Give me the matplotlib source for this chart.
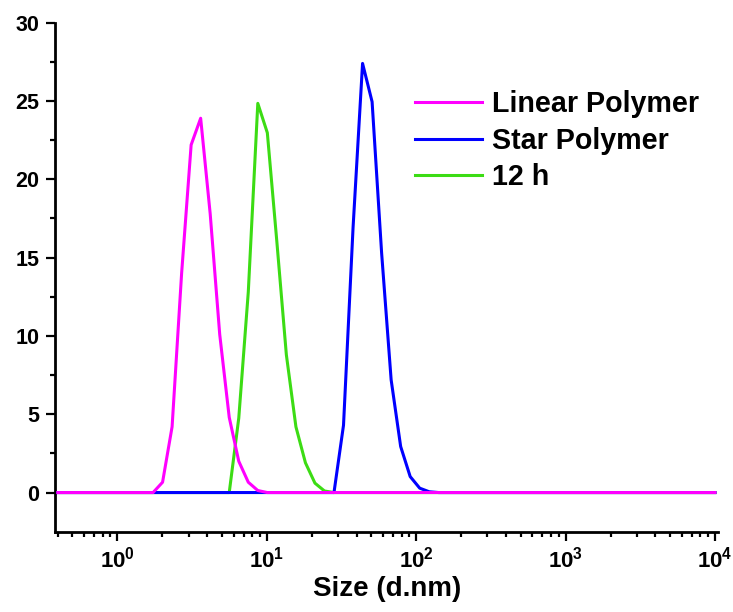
import matplotlib
matplotlib.use("Agg")
import matplotlib.pyplot as plt
from matplotlib.ticker import FixedLocator, FixedFormatter, NullFormatter
import numpy as np

plt.rcParams['font.family'] = ['Liberation Sans', 'DejaVu Sans']
plt.rcParams['font.weight'] = 'bold'
plt.rcParams['mathtext.fontset'] = 'custom'
plt.rcParams['mathtext.rm'] = 'Liberation Sans:bold'
plt.rcParams['mathtext.bf'] = 'Liberation Sans:bold'

# DLS size bins (d.nm)
sizes = [0.4, 0.4632, 0.5365, 0.6213, 0.7195, 0.8332, 0.9649, 1.117, 1.294, 1.499,
         1.736, 2.01, 2.328, 2.696, 3.122, 3.615, 4.187, 4.849, 5.615, 6.503,
         7.531, 8.721, 10.1, 11.7, 13.54, 15.69, 18.17, 21.04, 24.36, 28.21,
         32.67, 37.84, 43.82, 50.75, 58.77, 68.06, 78.82, 91.28, 105.7, 122.4,
         141.8, 164.2, 190.1, 220.2, 255.0, 295.3, 342.0, 396.1, 458.7, 531.2,
         615.1, 712.4, 825.0, 955.4, 1106, 1281, 1484, 1718, 1990, 2305,
         2669, 3091, 3580, 4145, 4801, 5560, 6439, 7456, 8635, 10000]

linear = [0]*10 + [0, 0.66, 4.2, 14.0, 22.2, 23.9, 17.8, 10.1, 4.8, 2.0,
                   0.66, 0.13, 0] + [0]*47
green_12h = [0]*18 + [0, 4.75, 12.8, 24.85, 22.97, 16.0, 8.8, 4.2, 1.9, 0.6,
                      0.1, 0] + [0]*40
star = [0]*29 + [0, 4.3, 16.9, 27.4, 24.95, 15.3, 7.2, 2.94, 1.02, 0.28,
                 0.05, 0] + [0]*29

labels = ['Linear Polymer', 'Star Polymer', '12 h']
colors = ['#FF00FF', '#0000FF', '#3CDC14']
xtick_vals = [1, 10, 100, 1000, 10000]
xtick_labels = [r'$10^{0}$', r'$10^{1}$', r'$10^{2}$', r'$10^{3}$', r'$10^{4}$']
ytick_vals = [0, 5, 10, 15, 20, 25, 30]

fig = plt.figure(figsize=(7.33, 6.12), dpi=100)
ax = fig.add_axes([0.0757, 0.1312, 0.904, 0.8317])

lw = 2.2
l3, = ax.plot(sizes, green_12h, color=colors[2], lw=lw, zorder=2)
l2, = ax.plot(sizes, star, color=colors[1], lw=lw, zorder=3)
l1, = ax.plot(sizes, linear, color=colors[0], lw=lw, zorder=4)

ax.set_xscale('log')
ax.set_xlim(0.386, 1.05e4)
ax.set_ylim(-2.5, 30)

for s in ['top', 'right']:
    ax.spines[s].set_visible(False)
for s in ['left', 'bottom']:
    ax.spines[s].set_linewidth(2.0)

ax.xaxis.set_major_locator(FixedLocator(xtick_vals))
ax.xaxis.set_major_formatter(FixedFormatter(xtick_labels))
minors = [m * 10.0**e for e in range(-1, 4) for m in range(2, 10)]
minors = [v for v in minors if v >= 0.386]
ax.xaxis.set_minor_locator(FixedLocator(minors))
ax.xaxis.set_minor_formatter(NullFormatter())

ax.yaxis.set_major_locator(FixedLocator(ytick_vals))
ax.yaxis.set_minor_locator(FixedLocator([2.5, 7.5, 12.5, 17.5, 22.5, 27.5]))

ax.tick_params(which='major', direction='out', length=6.5, width=1.6)
ax.tick_params(axis='x', which='major', pad=4, labelsize=16)
ax.tick_params(axis='y', which='major', pad=5, labelsize=15.5)
ax.tick_params(which='minor', direction='out', length=3.5, width=1.6)
for t in ax.get_yticklabels():
    t.set_fontweight('bold')

ax.set_xlabel('Size (d.nm)', fontsize=20, fontweight='bold', labelpad=3)

fig.legend([l1, l2, l3], labels, loc='upper left', bbox_to_anchor=(0.566, 0.853),
           frameon=False, handlelength=2.35, handletextpad=0.33,
           labelspacing=0.3, borderpad=0, borderaxespad=0,
           prop={'weight': 'bold', 'size': 20.6})

fig.savefig('out.png', dpi=100)
